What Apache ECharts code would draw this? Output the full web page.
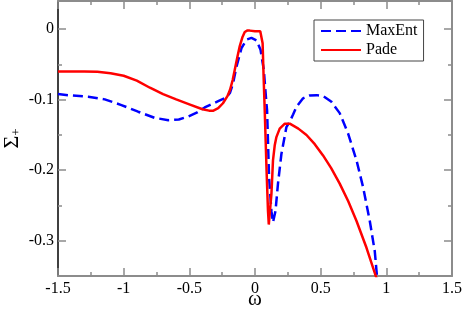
<!DOCTYPE html>
<html>
<head>
<meta charset="utf-8">
<script src="https://cdn.jsdelivr.net/npm/echarts@6/dist/echarts.min.js"></script>
<style>html,body{margin:0;padding:0;background:#fff;}#c{width:463px;height:309px;}</style>
</head>
<body>
<div id="c"></div>
<script>
var maxentW = [-1.5,-1.4,-1.27,-1.144,-1.017,-0.89,-0.764,-0.66,-0.58,-0.51,-0.44,-0.383,-0.345,-0.28,-0.217,-0.19,-0.167,-0.141,-0.103,-0.065,-0.027,0.011,0.042,0.067,0.087,0.092,0.107,0.125,0.137,0.156,0.175,0.201,0.239,0.265,0.29,0.316,0.366,0.417,0.47,0.518,0.582,0.645,0.709,0.773,0.823,0.874,0.912,0.93,0.935];
var maxentV = [-0.092,-0.094,-0.0957,-0.0995,-0.1076,-0.117,-0.1257,-0.129,-0.128,-0.124,-0.118,-0.111,-0.1076,-0.102,-0.0967,-0.09,-0.0767,-0.053,-0.027,-0.0147,-0.0123,-0.0157,-0.029,-0.0576,-0.105,-0.115,-0.21,-0.258,-0.274,-0.258,-0.219,-0.177,-0.139,-0.131,-0.121,-0.11,-0.098,-0.094,-0.0935,-0.0947,-0.103,-0.119,-0.148,-0.186,-0.224,-0.272,-0.315,-0.353,-0.37];
var padeW = [-1.5,-1.4,-1.3,-1.2,-1.1,-1.0,-0.9,-0.8,-0.7,-0.6,-0.5,-0.4,-0.35,-0.32,-0.28,-0.244,-0.21,-0.19,-0.17,-0.154,-0.135,-0.116,-0.095,-0.078,-0.06,-0.04,0,0.04,0.049,0.058,0.066,0.074,0.088,0.099,0.105,0.112,0.125,0.137,0.15,0.163,0.188,0.227,0.265,0.33,0.392,0.455,0.518,0.58,0.645,0.71,0.773,0.849,0.925,0.95];
var padeV = [-0.060,-0.060,-0.060,-0.0605,-0.0625,-0.066,-0.073,-0.083,-0.092,-0.0995,-0.1065,-0.1135,-0.1155,-0.1157,-0.112,-0.105,-0.095,-0.086,-0.072,-0.0576,-0.04,-0.024,-0.011,-0.004,-0.002,-0.002,-0.003,-0.003,-0.005,-0.02,-0.07,-0.115,-0.2,-0.258,-0.277,-0.262,-0.234,-0.186,-0.165,-0.153,-0.141,-0.134,-0.134,-0.141,-0.150,-0.163,-0.179,-0.197,-0.219,-0.244,-0.272,-0.31,-0.353,-0.37];
var yMajor = [-0.3,-0.2,-0.1,0];
var yMinor = [-0.25,-0.15,-0.05];

function zip(a,b){return a.map(function(v,i){return [v,b[i]];});}
var FONT = 'Liberation Serif';
var GREY = '#8c8c8c';
var chart = echarts.init(document.getElementById('c'), null, {renderer:'canvas'});
function xAx(pos, showLabel, name){
  return {
    type:'value', position:pos, min:-1.5, max:1.5, interval:0.5,
    axisLine:{show:true, onZero:false, lineStyle:{color:GREY, width:2}},
    axisTick:{show:true, inside:true, length:8, lineStyle:{color:GREY, width:1.5}},
    minorTick:{show:true, splitNumber:2, length:4, lineStyle:{color:GREY, width:1.5}},
    splitLine:{show:false}, minorSplitLine:{show:false},
    axisLabel:{show:showLabel, color:'#000', fontFamily:FONT, fontSize:16, margin:5},
    name:name||'', nameLocation:'middle', nameGap:13, nameMoveOverlap:false,
    nameTextStyle:{color:'#000', fontFamily:FONT, fontSize:21}
  };
}
function yAx(pos, major, lineColor, showLine, showLabel, name){
  return {
    type:'value', position:pos, min:-0.35, max:0.04,
    axisLine:{show:showLine, onZero:false, lineStyle:{color:lineColor, width:pos==='left'?1.5:2}},
    axisTick:{show:true, inside:true, length:major?8:4, customValues: major?yMajor:yMinor, lineStyle:{color:GREY, width:1.5}},
    splitLine:{show:false},
    axisLabel:{show:showLabel, customValues: yMajor, color:'#000', fontFamily:FONT, fontSize:16, margin:4,
      formatter:function(v){return String(Math.round(v*10)/10);}},
    name:name||'', nameLocation:'middle', nameGap:35, nameRotate:90, nameMoveOverlap:false,
    nameTextStyle:{color:'#000', fontFamily:FONT,
      rich:{s:{fontFamily:FONT, fontSize:22, color:'#000'}, p:{fontFamily:FONT, fontSize:13, color:'#000', verticalAlign:'bottom', padding:[6,0,0,0]}}}
  };
}
chart.setOption({
  animation:false,
  backgroundColor:'#fff',
  grid:{left:58, right:11, top:1, bottom:33, containLabel:false, outerBoundsMode:'none'},
  legend:{
    data:['MaxEnt','Pade'], orient:'vertical', left:314, top:20,
    backgroundColor:'#fff', borderColor:'#444', borderWidth:1,
    padding:[3,6,3,6], itemWidth:40, itemHeight:14, itemGap:3,
    itemStyle:{opacity:0, borderWidth:0},
    textStyle:{color:'#000', fontFamily:FONT, fontSize:16}
  },
  xAxis:[ xAx('bottom', true, 'ω'), xAx('top', false) ],
  yAxis:[
    yAx('left', true, '#000', true, true, '{s|Σ}{p|+}'),
    yAx('left', false, '#000', false, false),
    yAx('right', true, GREY, true, false),
    yAx('right', false, GREY, false, false)
  ],
  series:[
    {name:'MaxEnt', type:'line', symbol:'none', xAxisIndex:0, yAxisIndex:0, clip:true,
     lineStyle:{color:'#0000ff', width:2.5, type:[10,5]}, itemStyle:{color:'#0000ff'},
     data:zip(maxentW, maxentV)},
    {name:'Pade', type:'line', symbol:'none', xAxisIndex:0, yAxisIndex:0, clip:true,
     lineStyle:{color:'#ff0000', width:2.5}, itemStyle:{color:'#ff0000'},
     data:zip(padeW, padeV)}
  ]
});
</script>
</body>
</html>
